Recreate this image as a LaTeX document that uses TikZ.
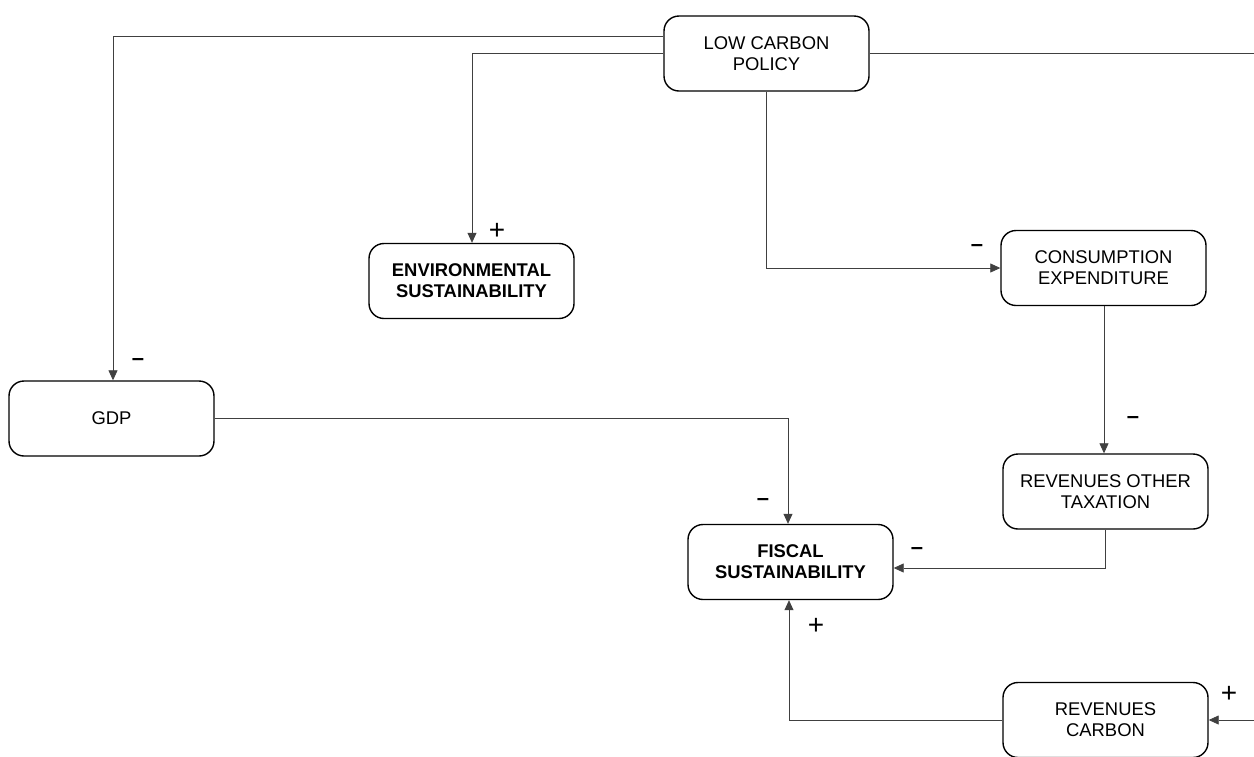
\documentclass[tikz,border=0pt]{standalone}
\usepackage{fontspec}
\setmainfont{Liberation Sans}
\usetikzlibrary{arrows.meta}
\begin{document}
\begin{tikzpicture}[x=1pt,y=-1pt,
  box/.style={draw=black,line width=1.4pt,rounded corners=15pt,
    minimum width=205pt,minimum height=75pt,inner sep=0pt,
    align=center,font=\fontsize{18.4}{21}\selectfont},
  conn/.style={draw=black!75,line width=0.8pt,
    -{Triangle[length=10pt,width=9pt]}},
  plain/.style={draw=black!75,line width=0.8pt},
  minus/.style={inner sep=0pt,font=\fontsize{22}{22}\selectfont\bfseries},
  plus/.style={inner sep=0pt,font=\fontsize{28}{28}\selectfont}]
\useasboundingbox (0,0) rectangle (1254,756);

% boxes
\node[box] (lcp)  at (766.5,53.5) {LOW CARBON\\POLICY};
\node[box,font=\fontsize{18.4}{21}\selectfont\bfseries] (env) at (471.5,281) {ENVIRONMENTAL\\SUSTAINABILITY};
\node[box] (cons) at (1103.5,268) {CONSUMPTION\\EXPENDITURE};
\node[box] (gdp)  at (111.5,418.5) {GDP};
\node[box] (rot)  at (1105.5,491.5) {REVENUES OTHER\\TAXATION};
\node[box,font=\fontsize{18.4}{21}\selectfont\bfseries] (fs) at (790.5,562) {FISCAL\\SUSTAINABILITY};
\node[box] (rc)   at (1105.5,720) {REVENUES\\CARBON};

% free ends at the right margin
\coordinate (outR) at (1254,53.5);
\coordinate (inR)  at (1254,720);

% connectors
\draw[conn] ([yshift=17.5pt]lcp.west) -| ([xshift=1.5pt]gdp.north);
\draw[conn] (lcp.west) -| ([xshift=0.5pt]env.north);
\draw[conn] (lcp.south) |- (cons.west);
\draw[plain] (lcp.east) -- (outR);
\draw[conn] ([xshift=0.5pt]cons.south) -- ([xshift=0.5pt]cons.south |- rot.north);
\draw[conn] (gdp.east) -| ([xshift=-2.5pt]fs.north);
\draw[conn] (rot.south) |- ([yshift=-6pt]fs.east);
\draw[conn] (rc.west) -| ([xshift=-1.5pt]fs.south);
\draw[conn] (inR) -- (rc.east);

% signs
\node[minus] (sg1) at (138,362) {–};
\node[plus]  (sg2) at (497,231) {+};
\node[minus] (sg3) at (977,248) {–};
\node[minus] (sg4) at (1133,420) {–};
\node[minus] (sg5) at (763,502) {–};
\node[minus] (sg6) at (917,551) {–};
\node[plus]  (sg7) at (816,626) {+};
\node[plus]  (sg8) at (1229,694) {+};
\end{tikzpicture}
\end{document}
